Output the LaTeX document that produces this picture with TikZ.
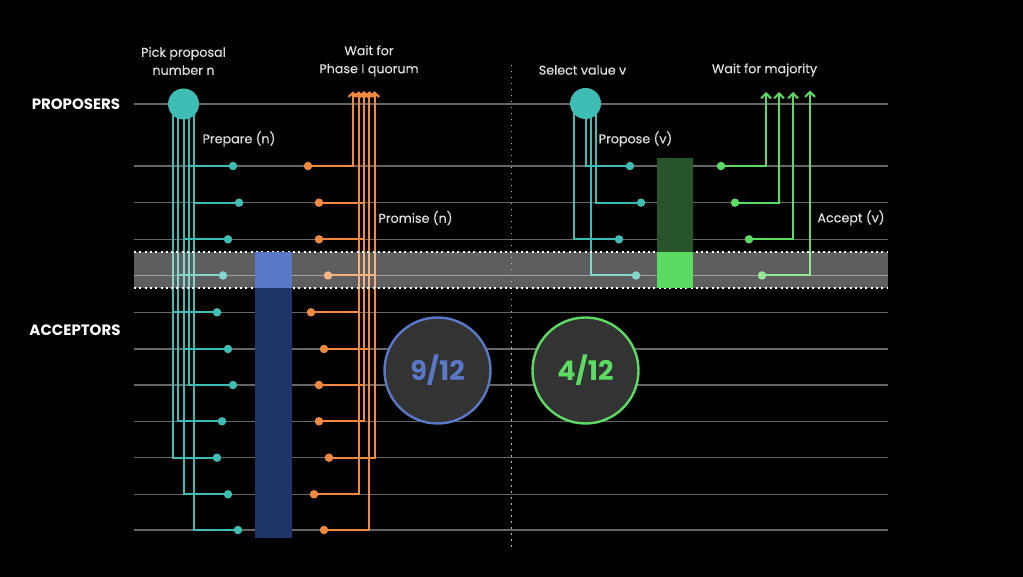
\documentclass[tikz,border=0pt]{standalone}
\usepackage{fontspec}
\setmainfont{Poppins}
\newfontfamily\labfont{Poppins}[FakeBold=0.4]
\usetikzlibrary{arrows.meta,calc}
\definecolor{tealc}{HTML}{3EBDB4}
\definecolor{orangec}{HTML}{F2893F}
\definecolor{greenc}{HTML}{5CDB63}
\definecolor{bluec}{HTML}{5A78C8}
\definecolor{navyc}{HTML}{1F3468}
\definecolor{dgreenc}{HTML}{27552A}
\definecolor{gridc}{HTML}{666666}
\definecolor{discc}{HTML}{333333}
\definecolor{labelc}{HTML}{DDDDDD}
\begin{document}
\begin{tikzpicture}[x=1pt,y=-1pt,
  lane/.style={draw=gridc,line width=1.4pt},
  tline/.style={draw=tealc,line width=2pt},
  oline/.style={draw=orangec,line width=2pt,-{Straight Barb[length=4pt,width=9pt]}},
  gline/.style={draw=greenc,line width=2pt,-{Straight Barb[length=5pt,width=10pt]}},
  tdot/.style={circle,fill=tealc,inner sep=0pt,minimum size=8.5pt},
  odot/.style={circle,fill=orangec,inner sep=0pt,minimum size=8.5pt},
  gdot/.style={circle,fill=greenc,inner sep=0pt,minimum size=8.5pt},
  prop/.style={circle,fill=tealc,inner sep=0pt,minimum size=31pt},
  lbl/.style={text=labelc,font=\labfont\fontsize{12.7}{18}\selectfont,align=center,inner sep=0pt},
  role/.style={text=white,font=\fontsize{15}{17}\selectfont\bfseries,inner sep=0pt},
  disc/.style={circle,fill=discc,line width=2.4pt,minimum size=106pt,inner sep=0pt,font=\fontsize{27}{30}\selectfont\bfseries},
  bandborder/.style={draw=white,line width=2pt,dash pattern=on 2pt off 3.3pt}
]
\fill[black] (0,0) rectangle (1023,577);
\useasboundingbox (0,0) rectangle (1023,577);

% lanes
\foreach \y in {104,166,202.7,239.3,275.5,312.3,349,385,421.3,457.7,494.3,530}
  \draw[lane] (134,\y) -- (888,\y);

% proposer circles (positions)
\coordinate (pLc) at (183.5,104);
\coordinate (pRc) at (585.5,103.5);

% left teal dots
\node[tdot] (a1) at (233,166) {};
\node[tdot] (a2) at (239,202.7) {};
\node[tdot] (a3) at (228,239.3) {};
\node[tdot] (a4) at (223,275.5) {};
\node[tdot] (a5) at (217,312.3) {};
\node[tdot] (a6) at (228,349) {};
\node[tdot] (a7) at (233,385) {};
\node[tdot] (a8) at (222,421.3) {};
\node[tdot] (a9) at (217,457.7) {};
\node[tdot] (a10) at (228,494.3) {};
\node[tdot] (a11) at (238,530) {};
\foreach \d/\o in {a5/-10.8,a9/-10.8,a4/-5.5,a8/-5.5,a3/0,a6/0,a10/0,a1/5.4,a7/5.4,a2/10.8,a11/10.8}
  \draw[tline] ([xshift=\o pt]pLc) |- (\d);

% orange promises
\node[odot] (b1) at (308,166) {};
\node[odot] (b2) at (319,202.7) {};
\node[odot] (b3) at (319,239.3) {};
\node[odot] (b4) at (328,275.5) {};
\node[odot] (b5) at (311,312.3) {};
\node[odot] (b6) at (324,349) {};
\node[odot] (b7) at (319,385) {};
\node[odot] (b8) at (319,421.3) {};
\node[odot] (b9) at (329,457.7) {};
\node[odot] (b10) at (314,494.3) {};
\node[odot] (b11) at (324,530) {};
\coordinate (ot1) at (353,91.5);
\coordinate (ot2) at (358.7,91.5);
\coordinate (ot3) at (364,91.5);
\coordinate (ot4) at (369.3,91.5);
\coordinate (ot5) at (374.5,91.5);
\foreach \d/\t in {b1/ot1,b5/ot2,b10/ot2,b2/ot3,b3/ot3,b7/ot3,b8/ot3,b6/ot4,b11/ot4,b4/ot5,b9/ot5}
  \draw[oline] (\d) -| (\t);

% right teal
\node[tdot] (c1) at (630,166) {};
\node[tdot] (c2) at (641,202.7) {};
\node[tdot] (c3) at (619,239.3) {};
\node[tdot] (c4) at (636,275.5) {};
\foreach \d/\o in {c1/0,c2/10.5,c3/-11.5,c4/5}
  \draw[tline] ([xshift=\o pt]pRc) |- (\d);

% green accepts
\node[gdot] (g1) at (721,166) {};
\node[gdot] (g2) at (735,202.7) {};
\node[gdot] (g3) at (749,239.3) {};
\node[gdot] (g4) at (762,275.5) {};
\coordinate (gt1) at (766,92);
\coordinate (gt2) at (779,92);
\coordinate (gt3) at (793,92);
\coordinate (gt4) at (810,90.5);
\foreach \d/\t in {g1/gt1,g2/gt2,g3/gt3,g4/gt4}
  \draw[gline] (\d) -| (\t);

% band overlay
\node[fill=white,fill opacity=0.37,minimum width=754pt,minimum height=36pt,inner sep=0pt,outer sep=0pt] (band) at (511,270) {};
\draw[bandborder] (band.north west) -- (band.north east);
\draw[bandborder] (band.south west) -- (band.south east);

% bars
\fill[navyc] (255,288) rectangle (292,538);
\fill[bluec] (255,252) rectangle (292,288);
\fill[dgreenc] (657,158) rectangle (693,252);
\fill[greenc] (657,252) rectangle (693,288);

% proposers
\node[prop] (pL) at (pLc) {};
\node[prop] (pR) at (pRc) {};

% divider
\draw[draw=white!70!black,line width=1.5pt,dash pattern=on 1.5pt off 4.5pt] (511.7,65) -- (511.7,548);

% quorum discs
\node[disc,draw=bluec,text=bluec] (q1) at (437.5,370.5) {9/12};
\node[disc,draw=greenc,text=greenc] (q2) at (585.5,370.5) {4/12};

% labels
\node[role] (proposers) at (76,104.5) {PROPOSERS};
\node[role] (acceptors) at (75,330) {ACCEPTORS};
\node[lbl] (t1) at (183.5,61) {Pick proposal\\number n};
\node[lbl] (t2) at (369,61) {Wait for\\Phase I quorum};
\node[lbl] (t3) at (239,139) {Prepare (n)};
\node[lbl] (t4) at (415.5,218) {Promise (n)};
\node[lbl] (t5) at (582.5,70) {Select value v};
\node[lbl] (t6) at (764.5,70) {Wait for majority};
\node[lbl] (t7) at (635.5,139) {Propose (v)};
\node[lbl] (t8) at (851,218) {Accept (v)};
\end{tikzpicture}
\end{document}
